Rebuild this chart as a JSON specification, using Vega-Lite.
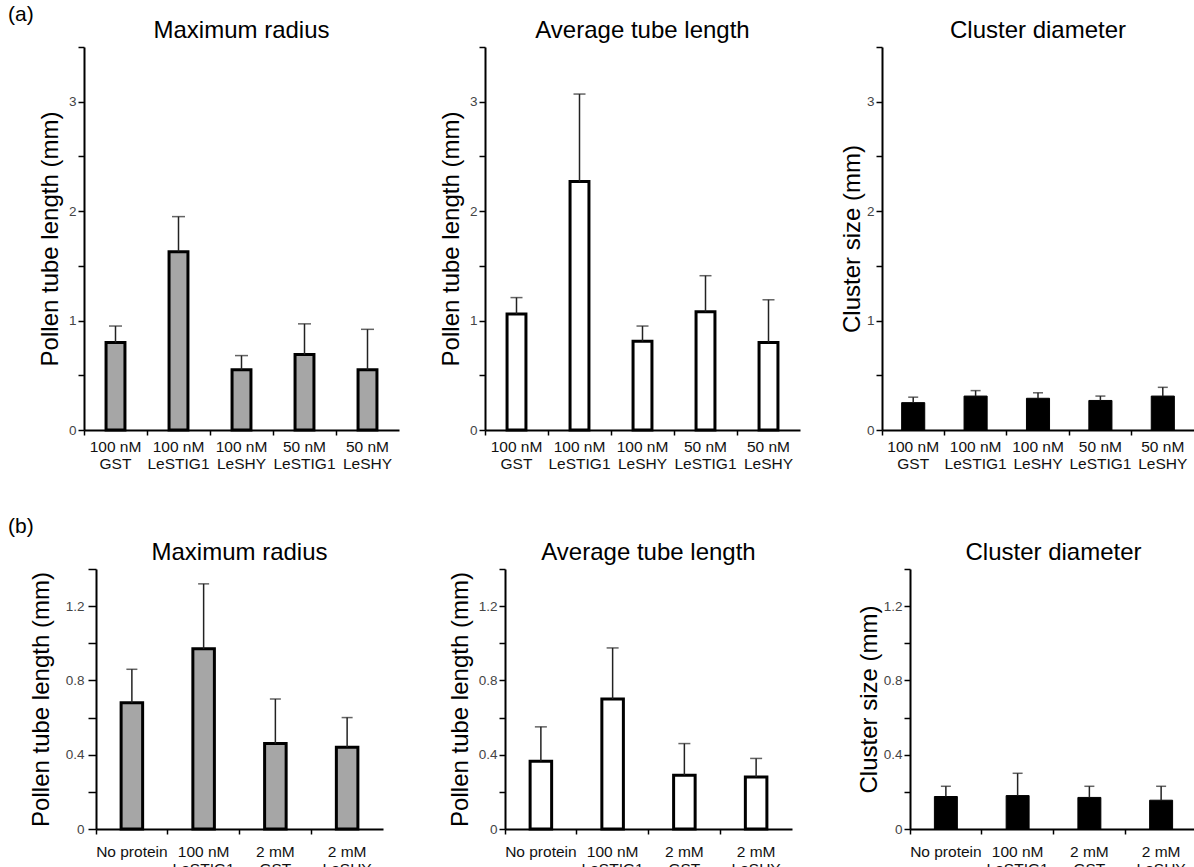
{
  "$schema": "https://vega.github.io/schema/vega-lite/v6.json",
  "padding": {"left": 8, "top": 4, "right": 0, "bottom": 0},
  "background": "white",
  "datasets": {
    "a_max": [
      {"cond": "100 nM|GST", "value": 0.80, "upper": 0.95},
      {"cond": "100 nM|LeSTIG1", "value": 1.63, "upper": 1.95},
      {"cond": "100 nM|LeSHY", "value": 0.55, "upper": 0.68},
      {"cond": "50 nM|LeSTIG1", "value": 0.69, "upper": 0.97},
      {"cond": "50 nM|LeSHY", "value": 0.55, "upper": 0.92}
    ],
    "a_avg": [
      {"cond": "100 nM|GST", "value": 1.06, "upper": 1.21},
      {"cond": "100 nM|LeSTIG1", "value": 2.27, "upper": 3.07},
      {"cond": "100 nM|LeSHY", "value": 0.81, "upper": 0.95},
      {"cond": "50 nM|LeSTIG1", "value": 1.08, "upper": 1.41},
      {"cond": "50 nM|LeSHY", "value": 0.80, "upper": 1.19}
    ],
    "a_clu": [
      {"cond": "100 nM|GST", "value": 0.25, "upper": 0.30},
      {"cond": "100 nM|LeSTIG1", "value": 0.31, "upper": 0.36},
      {"cond": "100 nM|LeSHY", "value": 0.29, "upper": 0.34},
      {"cond": "50 nM|LeSTIG1", "value": 0.27, "upper": 0.31},
      {"cond": "50 nM|LeSHY", "value": 0.31, "upper": 0.39}
    ],
    "b_max": [
      {"cond": "No protein", "value": 0.68, "upper": 0.86},
      {"cond": "100 nM|LeSTIG1", "value": 0.97, "upper": 1.32},
      {"cond": "2 mM|GST", "value": 0.46, "upper": 0.70},
      {"cond": "2 mM|LeSHY", "value": 0.44, "upper": 0.60}
    ],
    "b_avg": [
      {"cond": "No protein", "value": 0.365, "upper": 0.55},
      {"cond": "100 nM|LeSTIG1", "value": 0.70, "upper": 0.975},
      {"cond": "2 mM|GST", "value": 0.29, "upper": 0.46},
      {"cond": "2 mM|LeSHY", "value": 0.28, "upper": 0.38}
    ],
    "b_clu": [
      {"cond": "No protein", "value": 0.175, "upper": 0.23},
      {"cond": "100 nM|LeSTIG1", "value": 0.18, "upper": 0.30},
      {"cond": "2 mM|GST", "value": 0.17, "upper": 0.23},
      {"cond": "2 mM|LeSHY", "value": 0.155, "upper": 0.23}
    ]
  },
  "vconcat": [
    {
      "title": {"text": "(a)", "anchor": "start", "fontSize": 21, "offset": -6},
      "spacing": 0,
      "hconcat": [
        {"width": 30, "height": 1, "data": {"values": []}, "mark": "point"},
        {
          "spacing": 40,
          "hconcat": [
            {
              "width": 315, "height": 383,
              "title": "Maximum radius",
              "data": {"name": "a_max"},
              "encoding": {
                "x": {"field": "cond", "type": "nominal", "sort": null, "title": null,
                      "scale": {"paddingInner": 0, "paddingOuter": 0},
                      "axis": {"labelExpr": "split(datum.label, '|')"}},
                "y": {"field": "value", "type": "quantitative", "title": "Pollen tube length (mm)",
                      "scale": {"domain": [0, 3.5], "nice": false},
                      "axis": {"values": [0, 0.5, 1, 1.5, 2, 2.5, 3, 3.5], "labelExpr": "datum.value % 1 === 0 ? format(datum.value, 'd') : ''"}}
              },
              "layer": [
                {"mark": {"type": "bar", "width": {"band": 0.3}, "fill": "#a6a6a6", "stroke": "#000", "strokeWidth": 3}},
                {"mark": {"type": "rule", "color": "#222", "strokeWidth": 1.5}, "encoding": {"y2": {"field": "upper"}}},
                {"mark": {"type": "tick", "orient": "horizontal", "size": 13, "thickness": 1.5, "color": "#222"},
                 "encoding": {"y": {"field": "upper", "type": "quantitative", "title": "Pollen tube length (mm)"}}}
              ]
            },
            {
              "width": 315, "height": 383,
              "title": "Average tube length",
              "data": {"name": "a_avg"},
              "encoding": {
                "x": {"field": "cond", "type": "nominal", "sort": null, "title": null,
                      "scale": {"paddingInner": 0, "paddingOuter": 0},
                      "axis": {"labelExpr": "split(datum.label, '|')"}},
                "y": {"field": "value", "type": "quantitative", "title": "Pollen tube length (mm)",
                      "scale": {"domain": [0, 3.5], "nice": false},
                      "axis": {"values": [0, 0.5, 1, 1.5, 2, 2.5, 3, 3.5], "labelExpr": "datum.value % 1 === 0 ? format(datum.value, 'd') : ''"}}
              },
              "layer": [
                {"mark": {"type": "bar", "width": {"band": 0.3}, "fill": "#ffffff", "stroke": "#000", "strokeWidth": 3}},
                {"mark": {"type": "rule", "color": "#222", "strokeWidth": 1.5}, "encoding": {"y2": {"field": "upper"}}},
                {"mark": {"type": "tick", "orient": "horizontal", "size": 12, "thickness": 1.5, "color": "#222"},
                 "encoding": {"y": {"field": "upper", "type": "quantitative", "title": "Pollen tube length (mm)"}}}
              ]
            },
            {
              "width": 312, "height": 383,
              "title": "Cluster diameter",
              "data": {"name": "a_clu"},
              "encoding": {
                "x": {"field": "cond", "type": "nominal", "sort": null, "title": null,
                      "scale": {"paddingInner": 0, "paddingOuter": 0},
                      "axis": {"labelExpr": "split(datum.label, '|')"}},
                "y": {"field": "value", "type": "quantitative", "title": "Cluster size (mm)",
                      "scale": {"domain": [0, 3.5], "nice": false},
                      "axis": {"values": [0, 0.5, 1, 1.5, 2, 2.5, 3, 3.5], "labelExpr": "datum.value % 1 === 0 ? format(datum.value, 'd') : ''", "titlePadding": 2}}
              },
              "layer": [
                {"mark": {"type": "bar", "width": {"band": 0.37}, "fill": "#000", "stroke": "#000", "strokeWidth": 1}},
                {"mark": {"type": "rule", "color": "#222", "strokeWidth": 1.5}, "encoding": {"y2": {"field": "upper"}}},
                {"mark": {"type": "tick", "orient": "horizontal", "size": 10, "thickness": 1.5, "color": "#222"},
                 "encoding": {"y": {"field": "upper", "type": "quantitative", "title": "Cluster size (mm)"}}}
              ]
            }
          ]
        }
      ]
    },
    {
      "title": {"text": "(b)", "anchor": "start", "fontSize": 21, "offset": 4},
      "spacing": 0,
      "hconcat": [
        {"width": 21, "height": 1, "data": {"values": []}, "mark": "point"},
        {
          "spacing": 65,
          "hconcat": [
            {
              "width": 287, "height": 260,
              "title": "Maximum radius",
              "data": {"name": "b_max"},
              "encoding": {
                "x": {"field": "cond", "type": "nominal", "sort": null, "title": null,
                      "scale": {"paddingInner": 0, "paddingOuter": 0},
                      "axis": {"labelExpr": "split(datum.label, '|')", "labelBaseline": "middle", "labelPadding": 17}},
                "y": {"field": "value", "type": "quantitative", "title": "Pollen tube length (mm)",
                      "scale": {"domain": [0, 1.4], "nice": false},
                      "axis": {"values": [0, 0.2, 0.4, 0.6, 0.8, 1.0, 1.2, 1.4], "labelExpr": "datum.value == 0 ? '0' : (round(datum.value * 10) % 4 == 0 ? format(datum.value, '.1f') : '')", "tickSize": 8, "labelPadding": 4, "titlePadding": 12}}
              },
              "layer": [
                {"mark": {"type": "bar", "width": {"band": 0.3}, "fill": "#a6a6a6", "stroke": "#000", "strokeWidth": 3}},
                {"mark": {"type": "rule", "color": "#222", "strokeWidth": 1.5}, "encoding": {"y2": {"field": "upper"}}},
                {"mark": {"type": "tick", "orient": "horizontal", "size": 11, "thickness": 1.5, "color": "#222"},
                 "encoding": {"y": {"field": "upper", "type": "quantitative", "title": "Pollen tube length (mm)"}}}
              ]
            },
            {
              "width": 287, "height": 260,
              "title": "Average tube length",
              "data": {"name": "b_avg"},
              "encoding": {
                "x": {"field": "cond", "type": "nominal", "sort": null, "title": null,
                      "scale": {"paddingInner": 0, "paddingOuter": 0},
                      "axis": {"labelExpr": "split(datum.label, '|')", "labelBaseline": "middle", "labelPadding": 17}},
                "y": {"field": "value", "type": "quantitative", "title": "Pollen tube length (mm)",
                      "scale": {"domain": [0, 1.4], "nice": false},
                      "axis": {"values": [0, 0.2, 0.4, 0.6, 0.8, 1.0, 1.2, 1.4], "labelExpr": "datum.value == 0 ? '0' : (round(datum.value * 10) % 4 == 0 ? format(datum.value, '.1f') : '')", "titlePadding": 6}}
              },
              "layer": [
                {"mark": {"type": "bar", "width": {"band": 0.3}, "fill": "#ffffff", "stroke": "#000", "strokeWidth": 3}},
                {"mark": {"type": "rule", "color": "#222", "strokeWidth": 1.5}, "encoding": {"y2": {"field": "upper"}}},
                {"mark": {"type": "tick", "orient": "horizontal", "size": 12, "thickness": 1.5, "color": "#222"},
                 "encoding": {"y": {"field": "upper", "type": "quantitative", "title": "Pollen tube length (mm)"}}}
              ]
            },
            {
              "width": 287, "height": 260,
              "title": "Cluster diameter",
              "data": {"name": "b_clu"},
              "encoding": {
                "x": {"field": "cond", "type": "nominal", "sort": null, "title": null,
                      "scale": {"paddingInner": 0, "paddingOuter": 0},
                      "axis": {"labelExpr": "split(datum.label, '|')", "labelBaseline": "middle", "labelPadding": 17}},
                "y": {"field": "value", "type": "quantitative", "title": "Cluster size (mm)",
                      "scale": {"domain": [0, 1.4], "nice": false},
                      "axis": {"values": [0, 0.2, 0.4, 0.6, 0.8, 1.0, 1.2, 1.4], "labelExpr": "datum.value == 0 ? '0' : (round(datum.value * 10) % 4 == 0 ? format(datum.value, '.1f') : '')", "titlePadding": 2}}
              },
              "layer": [
                {"mark": {"type": "bar", "width": {"band": 0.32}, "fill": "#000", "stroke": "#000", "strokeWidth": 1}},
                {"mark": {"type": "rule", "color": "#222", "strokeWidth": 1.5}, "encoding": {"y2": {"field": "upper"}}},
                {"mark": {"type": "tick", "orient": "horizontal", "size": 10, "thickness": 1.5, "color": "#222"},
                 "encoding": {"y": {"field": "upper", "type": "quantitative", "title": "Cluster size (mm)"}}}
              ]
            }
          ]
        }
      ]
    }
  ],
  "spacing": 44,
  "config": {
    "font": "Liberation Sans",
    "view": {"stroke": null},
    "axis": {
      "grid": false, "domainColor": "#000", "domainWidth": 2, "tickColor": "#000", "tickWidth": 1.5,
      "labelFont": "Liberation Sans", "titleFont": "Liberation Sans", "titleFontWeight": "normal", "titleColor": "#000",
      "labelOverlap": false
    },
    "axisY": {"tickSize": 6, "labelFontSize": 13.5, "labelColor": "#444", "titleFontSize": 24, "labelPadding": 2, "titlePadding": 6},
    "axisX": {"labelAngle": 0, "bandPosition": 0, "tickSize": 5, "labelFontSize": 15.5, "labelColor": "#111", "labelLineHeight": 17, "labelPadding": 4},
    "title": {"fontSize": 24, "fontWeight": "normal", "font": "Liberation Sans", "color": "#000", "offset": -3}
  }
}
